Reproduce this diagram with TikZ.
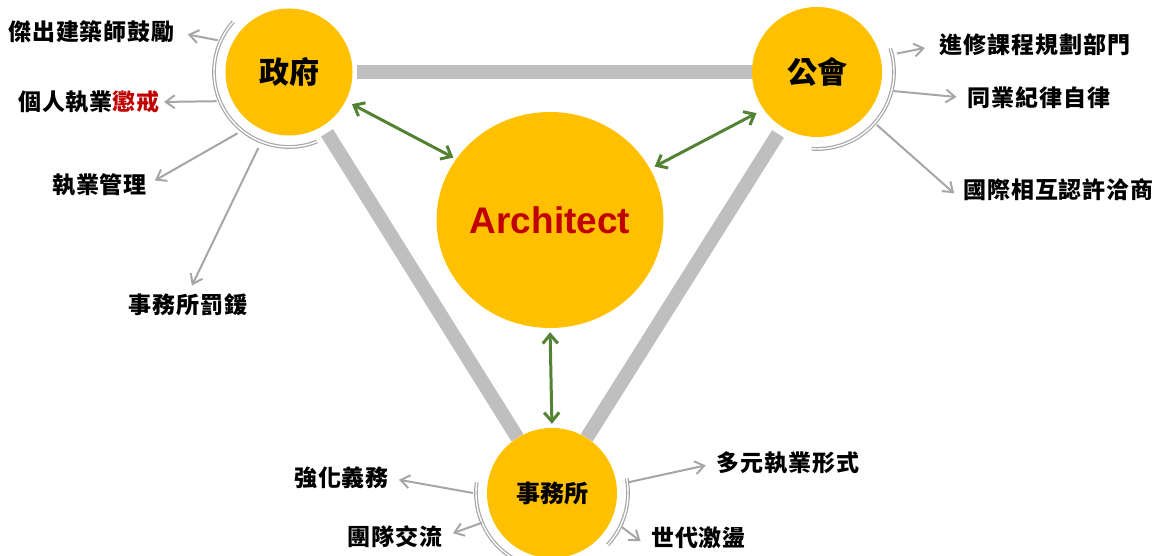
\documentclass[tikz,border=0pt]{standalone}
\usepackage{fontspec}
\setmainfont{Liberation Sans}
\newfontfamily\cjk{Noto Sans CJK TC}
\usetikzlibrary{arrows.meta,shapes.geometric,calc}
\definecolor{gold}{HTML}{FFC000}
\definecolor{barc}{HTML}{BFBFBF}
\definecolor{arcg}{HTML}{A6A6A6}
\definecolor{grn}{HTML}{548235}
\definecolor{dred}{HTML}{C00000}
\tikzset{
  hub/.style={circle, fill=gold, inner sep=0pt, minimum size=#1},
  hubtext/.style={font=\cjk\bfseries\fontsize{#1}{#1}\selectfont},
  lbl/.style={font=\cjk\bfseries\fontsize{23}{27}\selectfont\addfontfeature{LetterSpace=4}, inner sep=0pt, text=black},
  barline/.style={draw=barc, line width=14pt},
  link/.style={draw=grn, line width=3pt, {Straight Barb[length=9pt,width=15pt]}-{Straight Barb[length=9pt,width=15pt]}},
  ray/.style={draw=arcg, line width=2pt, -{Straight Barb[length=9pt,width=13pt]}},
  ring/.style={draw=arcg, line width=1.2pt, double=white, double distance=1.4pt}
}
\begin{document}
\begin{tikzpicture}[x=1pt,y=1pt]
\useasboundingbox (0,0) rectangle (1162,556);
% hub positions
\coordinate (gpos) at (289,484);
\coordinate (apos) at (817,484);
\coordinate (cpos) at (550,336);
\coordinate (fpos) at (552,63);
% invisible placement to get borders for bars
\node[hub=127pt, fill=none] (gov) at (gpos) {};
\node[hub=130pt, fill=none] (assoc) at (apos) {};
\node[ellipse, inner sep=0pt, minimum width=227pt, minimum height=216pt] (arch) at (cpos) {};
\node[hub=130pt, fill=none] (firm) at (fpos) {};
% bars
\draw[barline] ([xshift=4pt]gov.east) -- (assoc.west);
\draw[barline, shorten <=8pt] (gov) -- (firm);
\draw[barline, shorten <=8pt] (assoc) -- (firm);
% hubs
\node[hub=127pt, hubtext=30] at (gov) {政府};
\node[hub=130pt, hubtext=30] at (assoc) {公會};
\node[ellipse, fill=gold, inner sep=0pt, minimum width=227pt, minimum height=216pt,
      font=\bfseries\fontsize{37}{40}\selectfont, text=dred] at (arch) {Architect};
\node[hub=130pt, hubtext=24] at (firm) {事務所};
% rings
\draw[ring] ($(gov)+(138:75)$) arc[start angle=138, end angle=292, radius=75];
\draw[ring] ($(assoc)+(18:77)$) arc[start angle=18, end angle=-94, radius=77];
\draw[ring] ($(firm)+(172:76)$) arc[start angle=172, end angle=245, radius=76];
\draw[ring] ($(firm)+(11:76)$) arc[start angle=11, end angle=-43, radius=76];
% labels
\node[lbl] (t1) at (91.5,524) {傑出建築師鼓勵};
\node[lbl] (t2) at (89,454) {個人執業\textcolor{dred}{懲戒}};
\node[lbl] (t3) at (99.5,371) {執業管理};
\node[lbl] (t4) at (188,251) {事務所罰鍰};
\node[lbl] (t5) at (1035,511) {進修課程規劃部門};
\node[lbl] (t6) at (1039,458) {同業紀律自律};
\node[lbl] (t7) at (1058.5,366) {國際相互認許洽商};
\node[lbl] (t8) at (341.5,78) {強化義務};
\node[lbl] (t9) at (395,19) {團隊交流};
\node[lbl] (t10) at (788,93) {多元執業形式};
\node[lbl] (t11) at (698.5,18) {世代激盪};
% ray start points on rings
\coordinate (g1) at ($(gov)+(156:78)$);
\coordinate (g2) at ($(gov)+(202:78)$);
\coordinate (g3) at ($(gov)+(230:80)$);
\coordinate (g4) at ($(gov)+(248:82)$);
\coordinate (a1) at ($(assoc)+(13:82)$);
\coordinate (a2) at ($(assoc)+(-14:79)$);
\coordinate (a3) at ($(assoc)+(-41.5:80)$);
\coordinate (f1) at ($(firm)+(180:79)$);
\coordinate (f2) at ($(firm)+(203:76)$);
\coordinate (f3) at ($(firm)+(8:77)$);
\coordinate (f4) at ($(firm)+(-26:78)$);
% rays
\draw[ray, shorten >=13pt] (g1) -- (t1.east);
\draw[ray, shorten >=4pt] (g2) -- (t2.east);
\draw[ray, shorten >=9pt] (g3) -- (t3.east);
\draw[ray, shorten >=9pt] (g4) -- (t4.north);
\draw[ray, shorten >=15pt] (a1) -- (t5.west);
\draw[ray, shorten >=11pt] (a2) -- (t6.west);
\draw[ray, shorten >=12pt] (a3) -- (t7.south west);
\draw[ray, shorten >=10pt] (f1) -- (t8.east);
\draw[ray, shorten >=11pt] (f2) -- (t9.east);
\draw[ray, shorten >=11pt] (f3) -- (t10.west);
\draw[ray, shorten >=13pt] (f4) -- (t11.south west);
% links
\draw[link, shorten <=7pt, shorten >=3pt] (gov.-27) -- (arch.147);
\draw[link, shorten <=5pt, shorten >=8pt] (arch.27) -- (assoc.215);
\draw[link, shorten <=4pt, shorten >=4pt] (arch.south) -- (firm.north);
\end{tikzpicture}
\end{document}
